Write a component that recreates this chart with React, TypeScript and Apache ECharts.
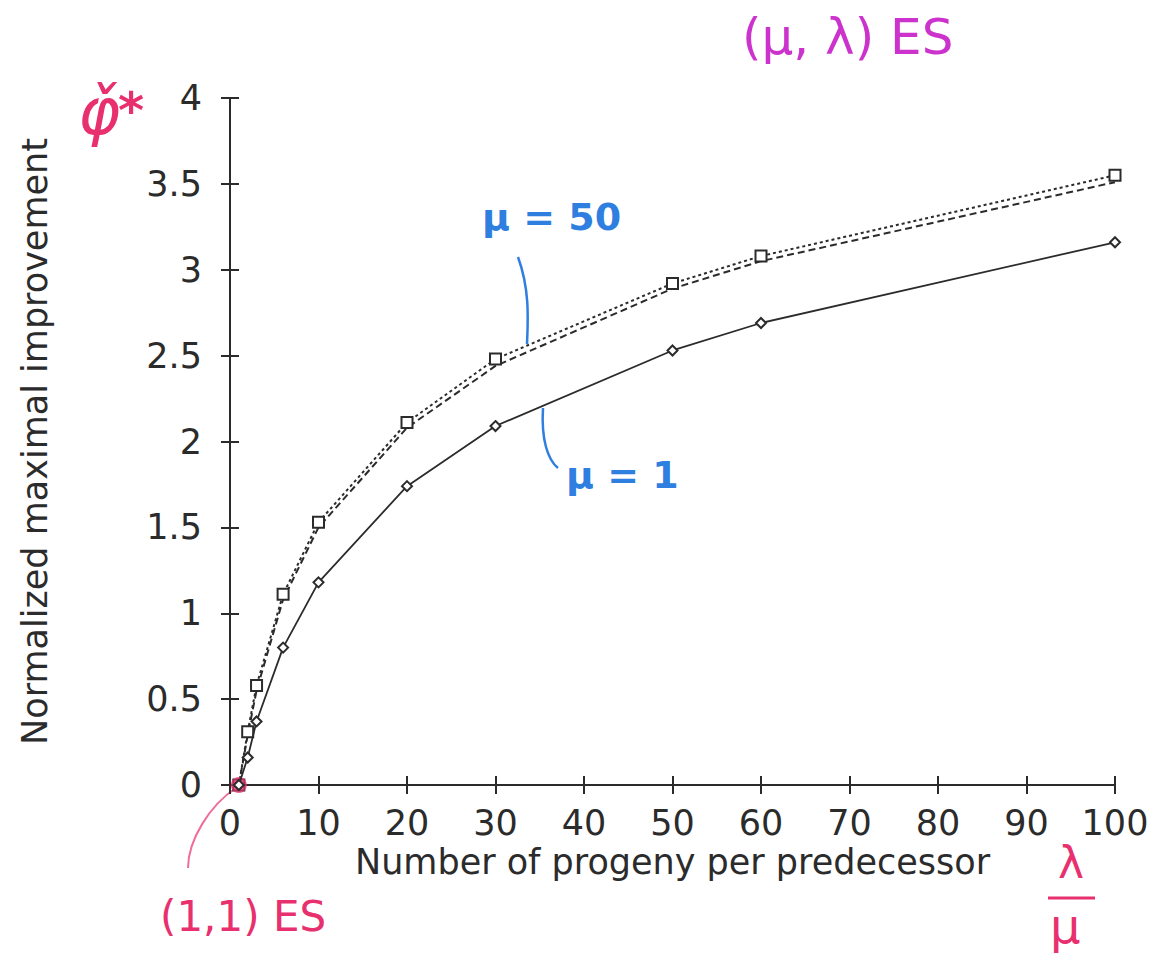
import React, { useEffect, useRef } from "react";
import * as echarts from "echarts";

const xValues = [1, 2, 3, 6, 10, 20, 30, 50, 60, 100];
const mu50Dotted = [0, 0.31, 0.58, 1.11, 1.53, 2.11, 2.48, 2.92, 3.08, 3.55];
const mu50Dashed = [0, 0.29, 0.55, 1.08, 1.5, 2.08, 2.44, 2.89, 3.05, 3.51];
const mu1Solid = [0, 0.16, 0.37, 0.8, 1.18, 1.74, 2.09, 2.53, 2.69, 3.16];

const xTitle = "Number of progeny per predecessor";
const yTitle = "Normalized maximal improvement";

const pair = (ys: number[]) => xValues.map((x, i) => [x, ys[i]]);

export default function App() {
  const ref = useRef<HTMLDivElement>(null);
  useEffect(() => {
    document.body.style.margin = "0";
    const chart = echarts.init(ref.current!, null, { renderer: "svg" });
    const ink = "#2b2b2b";
    const font = "DejaVu Sans, Liberation Sans, sans-serif";
    const hand = "DejaVu Sans, sans-serif";
    const pink = "#e8306e";
    const magenta = "#cc33cc";
    const blue = "#2f7fe0";
    const axisCommon = {
      axisLine: { show: true, lineStyle: { color: ink, width: 2 } },
      axisTick: { show: true, inside: true, length: 9, lineStyle: { color: ink, width: 2 } },
      splitLine: { show: false },
    };
    chart.setOption({
      animation: false,
      backgroundColor: "#ffffff",
      grid: { left: 230, right: 48, top: 98, bottom: 190 },
      xAxis: [
        {
          type: "value",
          min: 0,
          max: 100,
          interval: 10,
          position: "bottom",
          ...axisCommon,
          axisLabel: { color: ink, fontSize: 35, fontFamily: font, margin: 20 },
          name: xTitle,
          nameLocation: "middle",
          nameGap: 55,
          nameTextStyle: { color: ink, fontSize: 35, fontFamily: font },
        },
        {
          type: "value",
          min: 0,
          max: 100,
          interval: 10,
          position: "top",
          ...axisCommon,
          axisLabel: { show: false },
        },
      ],
      yAxis: [
        {
          type: "value",
          min: 0,
          max: 4,
          interval: 0.5,
          position: "left",
          ...axisCommon,
          axisLabel: { color: ink, fontSize: 35, fontFamily: font, margin: 28 },
          name: yTitle,
          nameLocation: "middle",
          nameGap: 178,
          nameRotate: 90,
          nameTextStyle: { color: ink, fontSize: 35, fontFamily: font },
        },
        {
          type: "value",
          min: 0,
          max: 4,
          interval: 0.5,
          position: "right",
          ...axisCommon,
          axisLabel: { show: false },
        },
      ],
      series: [
        {
          name: "mu50 dashed",
          type: "line",
          data: pair(mu50Dashed),
          symbol: "none",
          lineStyle: { color: ink, width: 2, type: [7, 4] },
          z: 3,
        },
        {
          name: "mu50 dotted",
          type: "line",
          data: pair(mu50Dotted),
          symbol: "emptyRect",
          symbolSize: 11,
          itemStyle: { color: ink, borderWidth: 1.5 },
          lineStyle: { color: ink, width: 2, type: [3, 3] },
          z: 4,
        },
        {
          name: "mu1 solid",
          type: "line",
          data: pair(mu1Solid),
          symbol: "emptyDiamond",
          symbolSize: 10,
          itemStyle: { color: ink, borderWidth: 1.5 },
          lineStyle: { color: ink, width: 1.8 },
          z: 5,
          markPoint: {
            symbol: "circle",
            symbolSize: 16,
            label: { show: false },
            itemStyle: { color: "rgba(232,48,110,0.75)" },
            data: [{ coord: [1, 0] }],
          },
        },
      ],
      graphic: [
        { type: "text", left: 742, top: 12, style: { text: "(μ, λ) ES", fill: magenta, font: `50px ${hand}` } },
        { type: "text", left: 78, top: 80, style: { text: "φ̌", fill: pink, font: `italic 64px ${hand}` } },
        { type: "text", left: 118, top: 86, style: { text: "*", fill: pink, font: `bold 50px ${hand}` } },
        { type: "text", left: 160, top: 895, style: { text: "(1,1) ES", fill: pink, font: `42px ${hand}` } },
        { type: "text", left: 1058, top: 840, style: { text: "λ", fill: pink, font: `44px ${hand}` } },
        { type: "line", shape: { x1: 1048, y1: 898, x2: 1095, y2: 898 }, style: { stroke: pink, lineWidth: 3 } },
        { type: "text", left: 1050, top: 902, style: { text: "μ", fill: pink, font: `48px ${hand}` } },
        { type: "text", left: 482, top: 198, style: { text: "μ = 50", fill: blue, font: `bold 38px ${hand}` } },
        { type: "text", left: 566, top: 456, style: { text: "μ = 1", fill: blue, font: `bold 38px ${hand}` } },
        {
          type: "bezierCurve",
          shape: { x1: 518, y1: 257, x2: 527, y2: 344, cpx1: 530, cpy1: 290, cpx2: 528, cpy2: 320 },
          style: { stroke: blue, lineWidth: 2.5, fill: "none" },
        },
        {
          type: "bezierCurve",
          shape: { x1: 543, y1: 408, x2: 558, y2: 468, cpx1: 541, cpy1: 440, cpx2: 548, cpy2: 460 },
          style: { stroke: blue, lineWidth: 2.5, fill: "none" },
        },
        {
          type: "bezierCurve",
          shape: { x1: 236, y1: 788, x2: 188, y2: 868, cpx1: 210, cpy1: 805, cpx2: 188, cpy2: 840 },
          style: { stroke: pink, lineWidth: 2, fill: "none", opacity: 0.7 },
        },
      ],
    });
    return () => chart.dispose();
  }, []);
  return <div ref={ref} style={{ width: 1163, height: 975 }} />;
}
